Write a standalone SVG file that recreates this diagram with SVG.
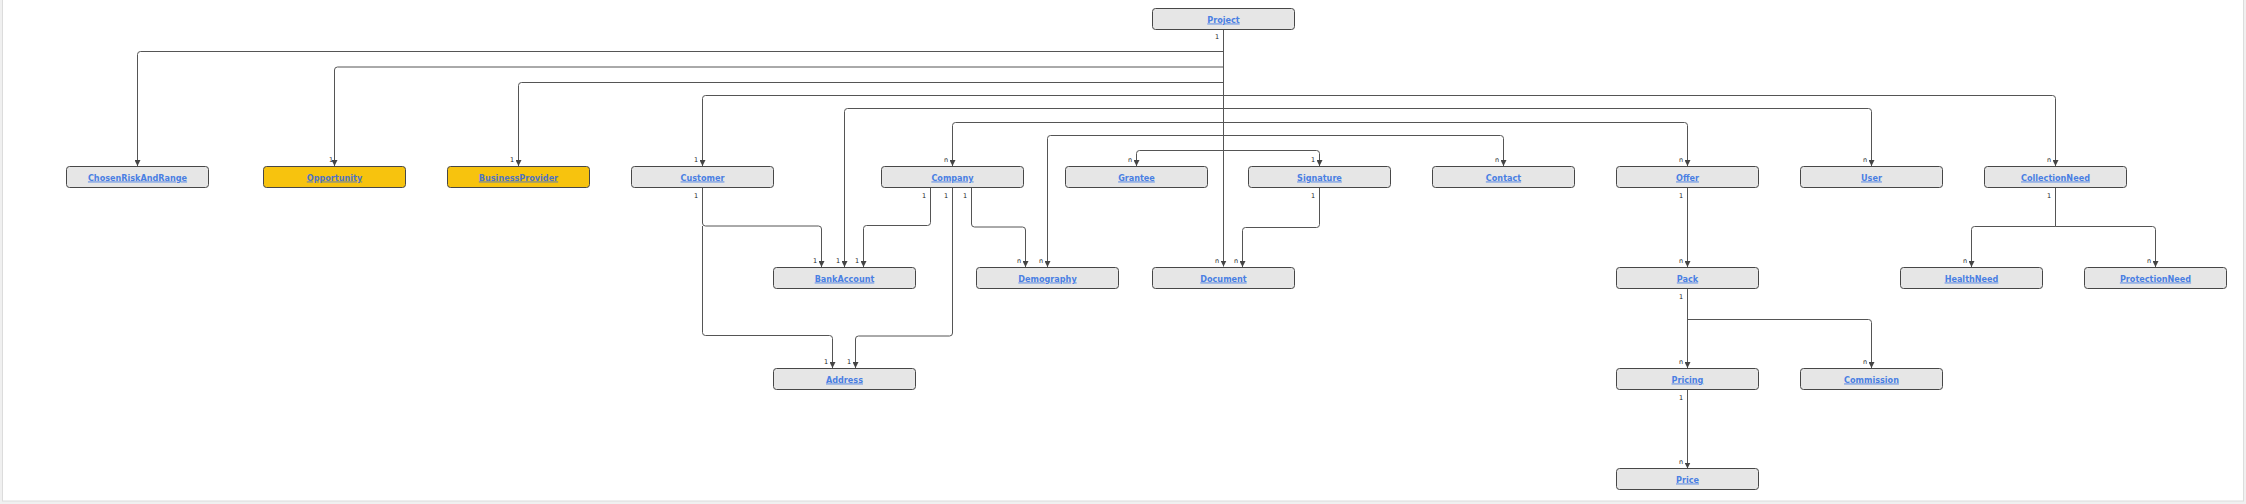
<svg xmlns="http://www.w3.org/2000/svg" width="2246" height="504" viewBox="0 0 2246 504">
<style>
.node rect{fill:#e6e6e6;stroke:#474747;stroke-width:1}
.node.y rect{fill:#f7c30e}
.node text{font-family:"DejaVu Sans Condensed","DejaVu Sans",sans-serif;font-size:9px;font-weight:bold;fill:#4a7fe3;text-anchor:middle;text-decoration:underline}
.node.y text{fill:#4f74c4}
#connectors path{fill:none;stroke:#555;stroke-width:1}
#connectors path.a{marker-end:url(#arr)}
#connectors text{font-family:"DejaVu Sans",sans-serif;font-size:6.5px;fill:#222;text-anchor:middle}
</style>
<defs>
<marker id="arr" viewBox="0 0 6 6" refX="6" refY="3" markerWidth="6" markerHeight="6" markerUnits="userSpaceOnUse" orient="auto"><path d="M0,0 L6,3 L0,6 z" fill="#444"/></marker>
</defs>
<rect x="0" y="0" width="2246" height="504" fill="#f0f0f0"/>
<rect x="2.5" y="-1" width="2241" height="502" fill="#ffffff" stroke="#dcdcdc"/>
<g id="connectors">
<path class="a" d="M1223.5 29 V266.5"/>
<path class="a" d="M1223.5 51.5 H140.5 Q137.5 51.5 137.5 54.5 V166"/>
<path class="a" d="M1223.5 67 H337.5 Q334.5 67 334.5 70 V166"/>
<path class="a" d="M1223.5 82.5 H521.5 Q518.5 82.5 518.5 85.5 V166"/>
<path class="a" d="M1223.5 95.5 H705.5 Q702.5 95.5 702.5 98.5 V166"/>
<path class="a" d="M1223.5 108.5 H847.5 Q844.5 108.5 844.5 111.5 V267"/>
<path class="a" d="M1223.5 122.5 H955.5 Q952.5 122.5 952.5 125.5 V166"/>
<path class="a" d="M1223.5 135.5 H1050.5 Q1047.5 135.5 1047.5 138.5 V267"/>
<path class="a" d="M1223.5 150.5 H1139.5 Q1136.5 150.5 1136.5 153.5 V166"/>
<path class="a" d="M1223.5 150.5 H1316.5 Q1319.5 150.5 1319.5 153.5 V166"/>
<path class="a" d="M1223.5 135.5 H1500.5 Q1503.5 135.5 1503.5 138.5 V166"/>
<path class="a" d="M1223.5 122.5 H1684.5 Q1687.5 122.5 1687.5 125.5 V166"/>
<path class="a" d="M1223.5 108.5 H1868.5 Q1871.5 108.5 1871.5 111.5 V166"/>
<path class="a" d="M1223.5 95.5 H2052.5 Q2055.5 95.5 2055.5 98.5 V166"/>
<text x="1217" y="39">1</text>
<text x="331" y="162">1</text>
<text x="512" y="162">1</text>
<text x="696" y="162">1</text>
<text x="838" y="263">1</text>
<text x="946" y="162">n</text>
<text x="1041" y="263">n</text>
<text x="1130" y="162">n</text>
<text x="1313" y="162">1</text>
<text x="1497" y="162">n</text>
<text x="1681" y="162">n</text>
<text x="1865" y="162">n</text>
<text x="2049" y="162">n</text>
<text x="1217" y="263">n</text>
<path class="a" d="M702.5 187 V223 Q702.5 226 705.5 226 H818.5 Q821.5 226 821.5 229 V267"/>
<path class="a" d="M702.5 226 V332.5 Q702.5 335.5 705.5 335.5 H829.5 Q832.5 335.5 832.5 338.5 V368"/>
<text x="696" y="198">1</text>
<text x="815" y="263">1</text>
<text x="826" y="364">1</text>
<path class="a" d="M930.5 187 V222.5 Q930.5 225.5 927.5 225.5 H866.5 Q863.5 225.5 863.5 228.5 V267"/>
<path class="a" d="M952.5 187 V333 Q952.5 336 949.5 336 H858.5 Q855.5 336 855.5 339 V368"/>
<path class="a" d="M971.5 187 V224 Q971.5 227 974.5 227 H1022.5 Q1025.5 227 1025.5 230 V267"/>
<text x="924" y="198">1</text>
<text x="946" y="198">1</text>
<text x="965" y="198">1</text>
<text x="857" y="263">1</text>
<text x="849" y="364">1</text>
<text x="1019" y="263">n</text>
<path class="a" d="M1319.5 187 V224.5 Q1319.5 227.5 1316.5 227.5 H1245.5 Q1242.5 227.5 1242.5 230.5 V267"/>
<text x="1313" y="198">1</text>
<text x="1236" y="263">n</text>
<path class="a" d="M1687.5 187 V267"/>
<text x="1681" y="198">1</text>
<text x="1681" y="263">n</text>
<path class="a" d="M2055.5 187 V226.5 H1974.5 Q1971.5 226.5 1971.5 229.5 V267"/>
<path class="a" d="M2055.5 226.5 H2152.5 Q2155.5 226.5 2155.5 229.5 V267"/>
<text x="2049" y="198">1</text>
<text x="1965" y="263">n</text>
<text x="2149" y="263">n</text>
<path class="a" d="M1687.5 288 V368"/>
<path class="a" d="M1687.5 319.5 H1868.5 Q1871.5 319.5 1871.5 322.5 V368"/>
<text x="1681" y="299">1</text>
<text x="1681" y="364">n</text>
<text x="1865" y="364">n</text>
<path class="a" d="M1687.5 389 V468.5"/>
<text x="1681" y="400">1</text>
<text x="1681" y="464">n</text>
</g>
<g id="Project" class="node"><rect x="1152.5" y="8.5" width="142" height="21" rx="3"/><text x="1223.5" y="22.5">Project</text></g>
<g id="ChosenRiskAndRange" class="node"><rect x="66.5" y="166.5" width="142" height="21" rx="3"/><text x="137.5" y="180.5">ChosenRiskAndRange</text></g>
<g id="Opportunity" class="node y"><rect x="263.5" y="166.5" width="142" height="21" rx="3"/><text x="334.5" y="180.5">Opportunity</text></g>
<g id="BusinessProvider" class="node y"><rect x="447.5" y="166.5" width="142" height="21" rx="3"/><text x="518.5" y="180.5">BusinessProvider</text></g>
<g id="Customer" class="node"><rect x="631.5" y="166.5" width="142" height="21" rx="3"/><text x="702.5" y="180.5">Customer</text></g>
<g id="Company" class="node"><rect x="881.5" y="166.5" width="142" height="21" rx="3"/><text x="952.5" y="180.5">Company</text></g>
<g id="Grantee" class="node"><rect x="1065.5" y="166.5" width="142" height="21" rx="3"/><text x="1136.5" y="180.5">Grantee</text></g>
<g id="Signature" class="node"><rect x="1248.5" y="166.5" width="142" height="21" rx="3"/><text x="1319.5" y="180.5">Signature</text></g>
<g id="Contact" class="node"><rect x="1432.5" y="166.5" width="142" height="21" rx="3"/><text x="1503.5" y="180.5">Contact</text></g>
<g id="Offer" class="node"><rect x="1616.5" y="166.5" width="142" height="21" rx="3"/><text x="1687.5" y="180.5">Offer</text></g>
<g id="User" class="node"><rect x="1800.5" y="166.5" width="142" height="21" rx="3"/><text x="1871.5" y="180.5">User</text></g>
<g id="CollectionNeed" class="node"><rect x="1984.5" y="166.5" width="142" height="21" rx="3"/><text x="2055.5" y="180.5">CollectionNeed</text></g>
<g id="BankAccount" class="node"><rect x="773.5" y="267.5" width="142" height="21" rx="3"/><text x="844.5" y="281.5">BankAccount</text></g>
<g id="Demography" class="node"><rect x="976.5" y="267.5" width="142" height="21" rx="3"/><text x="1047.5" y="281.5">Demography</text></g>
<g id="Document" class="node"><rect x="1152.5" y="267.5" width="142" height="21" rx="3"/><text x="1223.5" y="281.5">Document</text></g>
<g id="Pack" class="node"><rect x="1616.5" y="267.5" width="142" height="21" rx="3"/><text x="1687.5" y="281.5">Pack</text></g>
<g id="HealthNeed" class="node"><rect x="1900.5" y="267.5" width="142" height="21" rx="3"/><text x="1971.5" y="281.5">HealthNeed</text></g>
<g id="ProtectionNeed" class="node"><rect x="2084.5" y="267.5" width="142" height="21" rx="3"/><text x="2155.5" y="281.5">ProtectionNeed</text></g>
<g id="Address" class="node"><rect x="773.5" y="368.5" width="142" height="21" rx="3"/><text x="844.5" y="382.5">Address</text></g>
<g id="Pricing" class="node"><rect x="1616.5" y="368.5" width="142" height="21" rx="3"/><text x="1687.5" y="382.5">Pricing</text></g>
<g id="Commission" class="node"><rect x="1800.5" y="368.5" width="142" height="21" rx="3"/><text x="1871.5" y="382.5">Commission</text></g>
<g id="Price" class="node"><rect x="1616.5" y="468.5" width="142" height="21" rx="3"/><text x="1687.5" y="482.5">Price</text></g>
</svg>
